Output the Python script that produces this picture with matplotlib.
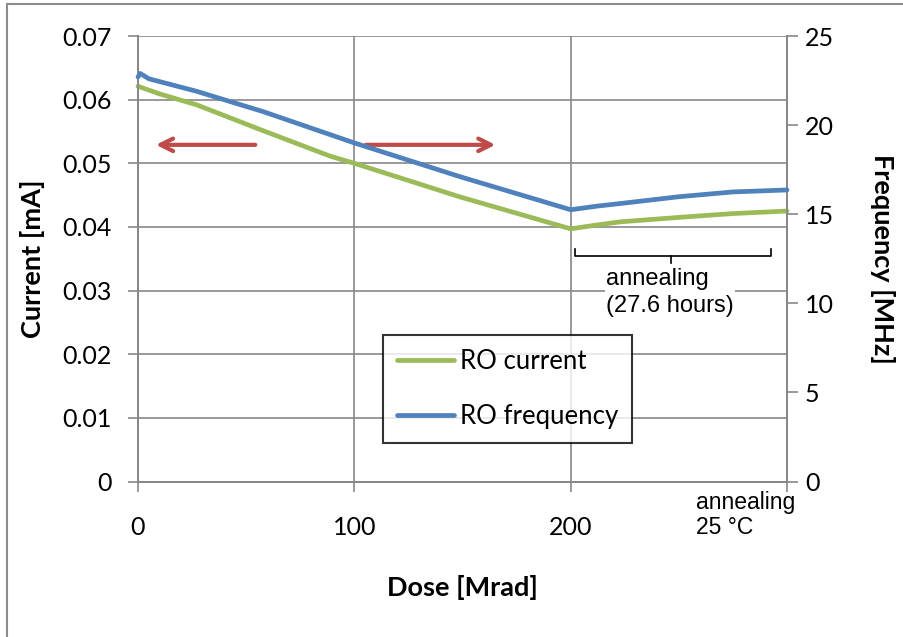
import matplotlib
matplotlib.use("Agg")
import matplotlib.pyplot as plt
from matplotlib.patches import Rectangle

plt.rcParams["font.family"] = ["Lato", "DejaVu Sans"]

# data: dose [Mrad] (200-300 is the annealing period)
dose_cur = [0, 5, 10, 27, 58, 89, 100, 149, 200, 212, 223, 250, 275, 300]
current = [0.0621, 0.0615, 0.0609, 0.0592, 0.0551, 0.0511, 0.0500, 0.0447,
           0.0397, 0.0403, 0.0408, 0.0415, 0.0421, 0.0425]
dose_freq = [0, 1, 5, 27, 58, 100, 149, 200, 212, 223, 250, 275, 300]
frequency = [22.7, 22.9, 22.6, 21.9, 20.75, 19.0, 17.1, 15.25, 15.45, 15.6,
             15.98, 16.25, 16.36]

x_ticks = [0, 100, 200, 300]
x_labels = ["0", "100", "200", ""]
left_ticks = [0, 0.01, 0.02, 0.03, 0.04, 0.05, 0.06, 0.07]
right_ticks = [0, 5, 10, 15, 20, 25]

green = "#9BBB59"
blue = "#4F81BD"
grey = "#878787"
red = "#BE4B48"

fig = plt.figure(figsize=(9.04, 6.37), dpi=100)
fig.subplots_adjust(left=138/904, right=787/904, top=1-36/637, bottom=1-481.5/637)
ax = fig.add_subplot(111)
ax2 = ax.twinx()

# outer chart border (only left and top edges are visible)
fig.patches.append(Rectangle((7/904, -0.1), 1.2, 1.1 - 4/637, transform=fig.transFigure,
                             fill=False, edgecolor="#8C8C8C", linewidth=1.5))

l1, = ax.plot(dose_cur, current, color=green, linewidth=3.4, label="RO current",
              solid_capstyle="round", clip_on=False, zorder=3)
l2, = ax2.plot(dose_freq, frequency, color=blue, linewidth=3.4, label="RO frequency",
               solid_capstyle="round", clip_on=False, zorder=3)

ax.set_xlim(0, 300)
ax.set_ylim(0, 0.07)
ax2.set_ylim(0, 25)
ax.set_xticks(x_ticks)
ax.set_xticklabels(x_labels)
ax.set_yticks(left_ticks)
ax.set_yticklabels(["0"] + [f"{v:.2f}" for v in left_ticks[1:]])
ax2.set_yticks(right_ticks)

ax.grid(True, color=grey, linewidth=1.2)
ax.set_axisbelow(True)
for a in (ax, ax2):
    for s in a.spines.values():
        s.set_color(grey)
        s.set_linewidth(1.2)
    a.spines["top"].set_visible(False)
ax.tick_params(axis="y", direction="out", length=7, width=1.2, color=grey,
               labelsize=18, pad=12)
ax.tick_params(axis="x", direction="out", length=7, width=1.2, color=grey,
               labelsize=18, pad=18)
ax2.tick_params(axis="y", direction="out", length=8, width=1.2, color=grey,
                labelsize=18, pad=5)

ax.set_xlabel("Dose [Mrad]", fontsize=19.5, fontweight="bold", labelpad=26)
ax.set_ylabel("Current [mA]", fontsize=19.5, fontweight="bold", labelpad=12)
ax2.set_ylabel("Frequency [MHz]", fontsize=19.5, fontweight="bold", rotation=-90,
               labelpad=44)

# arrows pointing to the respective axes
arrow = dict(arrowstyle="->,head_length=0.9,head_width=0.45", color=red, lw=3)
ax.annotate("", xy=(7, 0.0529), xytext=(55.5, 0.0529), arrowprops=arrow)
ax.annotate("", xy=(166.5, 0.0529), xytext=(104, 0.0529), arrowprops=arrow)

# annealing bracket
bx0, bx1, bxm = 202, 292.5, 246.5
ax.plot([bx0, bx0, bx1, bx1], [0.0365, 0.0355, 0.0355, 0.0365], color="black", lw=1.2)
ax.plot([bxm, bxm], [0.0355, 0.0344], color="black", lw=1.2)
ax.text(216.4, 0.0297, "annealing\n(27.6 hours)", ha="left", va="center",
        fontsize=17, family="Liberation Sans", linespacing=1.35, zorder=4,
        bbox=dict(facecolor="white", edgecolor="none", pad=1))
ax.text(258, -0.0015, "annealing\n25 °C", ha="left", va="top", fontsize=16.5,
        family="Liberation Sans", linespacing=1.1, clip_on=False)

leg = ax2.legend(handles=[l1, l2], loc="upper left", bbox_to_anchor=(0.3775, 0.329),
                 borderaxespad=0, fontsize=18.5, frameon=True, fancybox=False,
                 edgecolor="black", handlelength=2.2, handletextpad=0.25,
                 labelspacing=1.15, borderpad=0.55)
leg.get_frame().set_linewidth(1.5)

fig.savefig("out.png", dpi=100)
